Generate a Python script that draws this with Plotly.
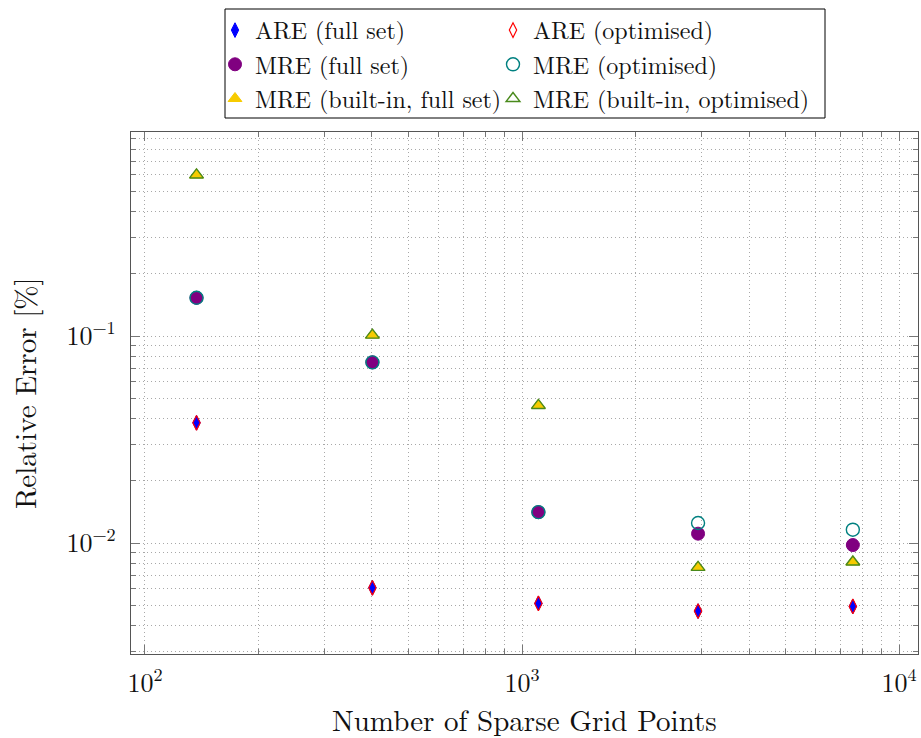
import plotly.graph_objects as go

# Number of sparse grid points per refinement level
grid_points = [137, 401, 1105, 2929, 7537]

# Relative errors [%]
are_full = [0.0381, 0.00608, 0.00511, 0.00469, 0.00494]
are_opt = [0.0381, 0.00608, 0.00511, 0.00469, 0.00494]
mre_full = [0.153, 0.0746, 0.0141, 0.0111, 0.00978]
mre_opt = [0.153, 0.0746, 0.0141, 0.0125, 0.0116]
mre_builtin_full = [0.600, 0.101, 0.0462, 0.00763, 0.0081]
mre_builtin_opt = [0.600, 0.101, 0.0462, 0.00763, 0.0081]

x_tick_vals = [100, 1000, 10000]
x_tick_text = ["10<sup>2</sup>", "10<sup>3</sup>", "10<sup>4</sup>"]
y_tick_vals = [0.01, 0.1]
y_tick_text = ["10<sup>\u22122</sup>", "10<sup>\u22121</sup>"]

x_title = "Number of Sparse Grid Points"
y_title = "Relative Error [%]"

FONT = "Latin Modern Roman"
BLUE = "#0000ff"
RED = "#ff0000"
PURPLE = "#800080"
TEAL = "#008080"
GOLD = "#f7cb00"
GREEN = "#4a8a1c"

# plot-area geometry in pixels
W, H = 921, 738
L, R, T, B = 131, 3, 132, 84
PW, PH = W - L - R, H - T - B

fig = go.Figure()


def add_series(name, y, symbol, size, fill, line_color, line_width):
    fig.add_trace(go.Scatter(
        x=grid_points, y=y, name=name, mode="markers",
        marker=dict(symbol=symbol, size=size, color=fill,
                    line=dict(color=line_color, width=line_width)),
    ))


add_series("ARE (full set)", are_full, "diamond-tall", 10.5, BLUE, BLUE, 1)
add_series("ARE (optimised)", are_opt, "diamond-tall-open", 10.5, RED, RED, 1.2)
add_series("MRE (full set)", mre_full, "circle", 13, PURPLE, PURPLE, 1)
add_series("MRE (optimised)", mre_opt, "circle-open", 13, TEAL, TEAL, 1.4)
add_series("MRE (built-in, full set)", mre_builtin_full, "triangle-up", 12, GOLD, GOLD, 1)
add_series("MRE (built-in, optimised)", mre_builtin_opt, "triangle-up-open", 12, GREEN, GREEN, 1.4)

axis_common = dict(
    type="log",
    showline=True, linecolor="#555555", linewidth=1.3, mirror="allticks",
    ticks="inside", ticklen=9, tickcolor="#777777", tickwidth=1,
    showgrid=True, gridcolor="#a8a8a8", gridwidth=1, griddash="1px,3px",
    tickfont=dict(family=FONT, size=26, color="#111111"),
    zeroline=False,
    minor=dict(dtick="D1", ticks="inside", ticklen=5, tickcolor="#777777",
               showgrid=True, gridcolor="#a8a8a8", gridwidth=1, griddash="1px,3px"),
)

fig.update_xaxes(
    **axis_common,
    range=[1.963, 4.050],
    tickmode="array", tickvals=x_tick_vals, ticktext=x_tick_text,
    ticklabelstandoff=6,
)
fig.update_yaxes(
    **axis_common,
    range=[-2.536, -0.0145],
    tickmode="array", tickvals=y_tick_vals, ticktext=y_tick_text,
    ticklabelstandoff=9,
)

# axis titles
title_font = dict(family=FONT, size=29, color="#111111")
fig.add_annotation(text=x_title, xref="paper", yref="paper",
                   x=0.5, y=((H - B) - 718) / PH,
                   xanchor="center", yanchor="middle", showarrow=False, font=title_font)
fig.add_annotation(text=y_title, xref="paper", yref="paper",
                   x=(23 - L) / PW, y=0.5, textangle=-90,
                   xanchor="center", yanchor="middle", showarrow=False, font=title_font)

# legend as a two-column grid: one legend per column inside a shared frame
legend_style = dict(
    xref="container", yref="container",
    y=1 - 8 / H, xanchor="left", yanchor="top",
    bgcolor="rgba(0,0,0,0)", borderwidth=0,
    font=dict(family=FONT, size=24, color="#111111"),
    traceorder="normal", tracegroupgap=0,
)
for i, tr in enumerate(fig.data):
    tr.legend = "legend" if i % 2 == 0 else "legend2"

fig.update_layout(
    width=W, height=H,
    margin=dict(l=L, r=R, t=T, b=B, autoexpand=False),
    paper_bgcolor="white", plot_bgcolor="white",
    font=dict(family=FONT, color="#111111"),
    legend=dict(legend_style, x=215 / W),
    legend2=dict(legend_style, x=493 / W),
    shapes=[dict(
        type="rect", xref="paper", yref="paper",
        x0=(225 - L) / PW, x1=(825 - L) / PW,
        y0=(H - B - 118) / PH, y1=(H - B - 9) / PH,
        line=dict(color="black", width=1), fillcolor="white", layer="below",
    )],
)

fig.write_html("out.html")
